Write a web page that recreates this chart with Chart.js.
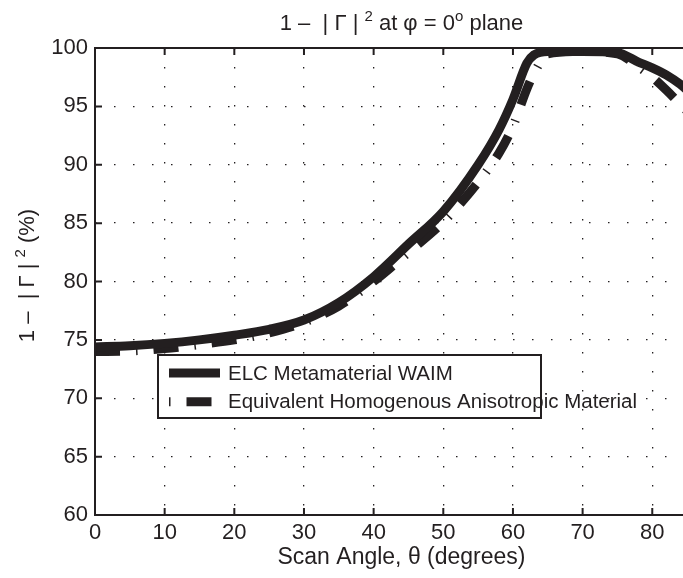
<!DOCTYPE html>
<html>
<head>
<meta charset="utf-8">
<script src="https://cdn.jsdelivr.net/npm/chart.js@4/dist/chart.umd.min.js"></script>
<style>
html, body { margin: 0; padding: 0; background: #fff; overflow: hidden; }
#wrap { width: 720px; height: 578px; }
</style>
</head>
<body>
<div id="wrap"><canvas id="grafico" width="720" height="578"></canvas></div>
<script>
// values
var angulos = [0, 5, 10, 15, 20, 25, 30, 35, 40, 45, 50, 55, 58, 60, 62, 63, 65, 70, 75, 78, 80, 82, 84, 85];
var valoresELC = [74.4, 74.5, 74.7, 75.0, 75.4, 75.9, 76.7, 78.2, 80.4, 83.2, 86.0, 90.0, 93.0, 95.6, 98.7, 99.4, 99.7, 99.7, 99.6, 98.8, 98.3, 97.7, 96.9, 96.4];
var valoresEquivalente = [74.0, 74.05, 74.25, 74.6, 75.0, 75.6, 76.5, 77.9, 80.0, 82.5, 85.1, 88.5, 91.0, 93.3, 96.5, 97.8, 99.5, 99.7, 99.5, 98.4, 97.5, 96.4, 95.2, 94.6];
var ticksX = [0, 10, 20, 30, 40, 50, 60, 70, 80];
var ticksY = [60, 65, 70, 75, 80, 85, 90, 95, 100];
var nomes = ['ELC Metamaterial WAIM', 'Equivalent Homogenous Anisotropic Material'];

var preto = '#231f20';
var fonte = '"Liberation Sans", Arial, Helvetica, sans-serif';

function pontos(valores) {
	return angulos.map(function(a, i) { return { x: a, y: valores[i] }; });
}

// text with raised pieces: [texto, sobrescrito]
function textoComExpoente(ctx, partes, x, y) {
	var total = 0;
	partes.forEach(function(p) {
		ctx.font = (p[1] ? 15 : 22) + 'px ' + fonte;
		p.w = ctx.measureText(p[0]).width;
		total += p.w;
	});
	var cx = x - total / 2;
	partes.forEach(function(p) {
		ctx.font = (p[1] ? 15 : 22) + 'px ' + fonte;
		ctx.fillText(p[0], cx, p[1] ? y - 9 : y);
		cx += p.w;
	});
}

// frame, inward ticks, titles and the boxed legend, MATLAB style
var moldura = {
	id: 'moldura',
	afterDatasetsDraw: function(chart) {
		var ctx = chart.ctx, a = chart.chartArea;
		var sx = chart.scales.x, sy = chart.scales.y;
		ctx.save();
		ctx.setLineDash([]);
		ctx.strokeStyle = preto;
		ctx.lineWidth = 2;
		ctx.strokeRect(a.left, a.top, a.right - a.left, a.bottom - a.top);
		ctx.beginPath();
		ticksX.forEach(function(v) {
			var px = sx.getPixelForValue(v);
			ctx.moveTo(px, a.bottom); ctx.lineTo(px, a.bottom - 7);
			ctx.moveTo(px, a.top); ctx.lineTo(px, a.top + 7);
		});
		ticksY.forEach(function(v) {
			var py = sy.getPixelForValue(v);
			ctx.moveTo(a.left, py); ctx.lineTo(a.left + 7, py);
			ctx.moveTo(a.right, py); ctx.lineTo(a.right - 7, py);
		});
		ctx.stroke();

		// titles
		ctx.fillStyle = preto;
		ctx.textAlign = 'left';
		ctx.textBaseline = 'alphabetic';
		var meio = (a.left + a.right) / 2;
		textoComExpoente(ctx, [['1 \u2013  | \u0393 | ', false], ['2', true], [' at \u03c6 = 0', false], ['o', true], [' plane', false]], meio, 30);
		ctx.save();
		ctx.translate(34, (a.top + a.bottom) / 2 - 6);
		ctx.rotate(-Math.PI / 2);
		textoComExpoente(ctx, [['1 \u2013  | \u0393 | ', false], ['2', true], [' (%)', false]], 0, 0);
		ctx.restore();

		// legend box
		var lx = 158, ly = 355, lw = 383, lh = 63;
		ctx.fillStyle = '#fff';
		ctx.fillRect(lx, ly, lw, lh);
		ctx.strokeRect(lx, ly, lw, lh);
		ctx.font = '20.5px ' + fonte;
		ctx.textBaseline = 'middle';
		chart.data.datasets.forEach(function(ds, i) {
			var y = ly + 18 + i * 28.7;
			ctx.save();
			ctx.lineWidth = ds.borderWidth;
			ctx.strokeStyle = ds.borderColor;
			ctx.setLineDash(ds.borderDash || []);
			ctx.lineDashOffset = ds.borderDash ? ds.borderDash[0] + ds.borderDash[1] : 0;
			ctx.beginPath();
			ctx.moveTo(169, y);
			ctx.lineTo(220, y);
			ctx.stroke();
			ctx.restore();
			ctx.fillStyle = preto;
			ctx.fillText(ds.label, 228, y + 1);
		});
		ctx.restore();
	}
};

var grafico = new Chart(document.getElementById('grafico').getContext('2d'), {
	type: 'line',
	data: {
		datasets: [
			{
				label: nomes[0],
				data: pontos(valoresELC),
				borderColor: preto,
				borderWidth: 9,
				pointRadius: 0,
				cubicInterpolationMode: 'monotone',
				clip: 0
			},
			{
				label: nomes[1],
				data: pontos(valoresEquivalente),
				borderColor: preto,
				borderWidth: 9,
				borderDash: [25, 16, 1.5, 16],
				pointRadius: 0,
				cubicInterpolationMode: 'monotone',
				clip: 0
			}
		]
	},
	options: {
		responsive: false,
		animation: false,
		devicePixelRatio: 1,
		layout: { padding: { top: 48, right: 12, left: 0, bottom: 0 } },
		plugins: {
			legend: { display: false },
			tooltip: { enabled: false },
			title: { display: false }
		},
		scales: {
			x: {
				type: 'linear',
				min: 0,
				max: 88,
				afterBuildTicks: function(s) { s.ticks = ticksX.map(function(v) { return { value: v }; }); },
				afterFit: function(s) { s.height = 63; },
				ticks: { color: preto, padding: 5, maxRotation: 0, font: { family: fonte, size: 22 } },
				grid: { color: preto, lineWidth: 1.3, drawTicks: false },
				border: { display: false, dash: [1.5, 17.5] },
				title: {
					display: true,
					text: 'Scan Angle, \u03b8 (degrees)',
					color: preto,
					font: { family: fonte, size: 23 },
					padding: { top: 0, bottom: 7 }
				}
			},
			y: {
				type: 'linear',
				min: 60,
				max: 100,
				afterBuildTicks: function(s) { s.ticks = ticksY.map(function(v) { return { value: v }; }); },
				afterFit: function(s) { s.width = 95; },
				ticks: { color: preto, padding: 7, font: { family: fonte, size: 22 } },
				grid: { color: preto, lineWidth: 1.3, drawTicks: false },
				border: { display: false, dash: [1.5, 17.5] }
			}
		}
	},
	plugins: [moldura]
});
</script>
</body>
</html>
